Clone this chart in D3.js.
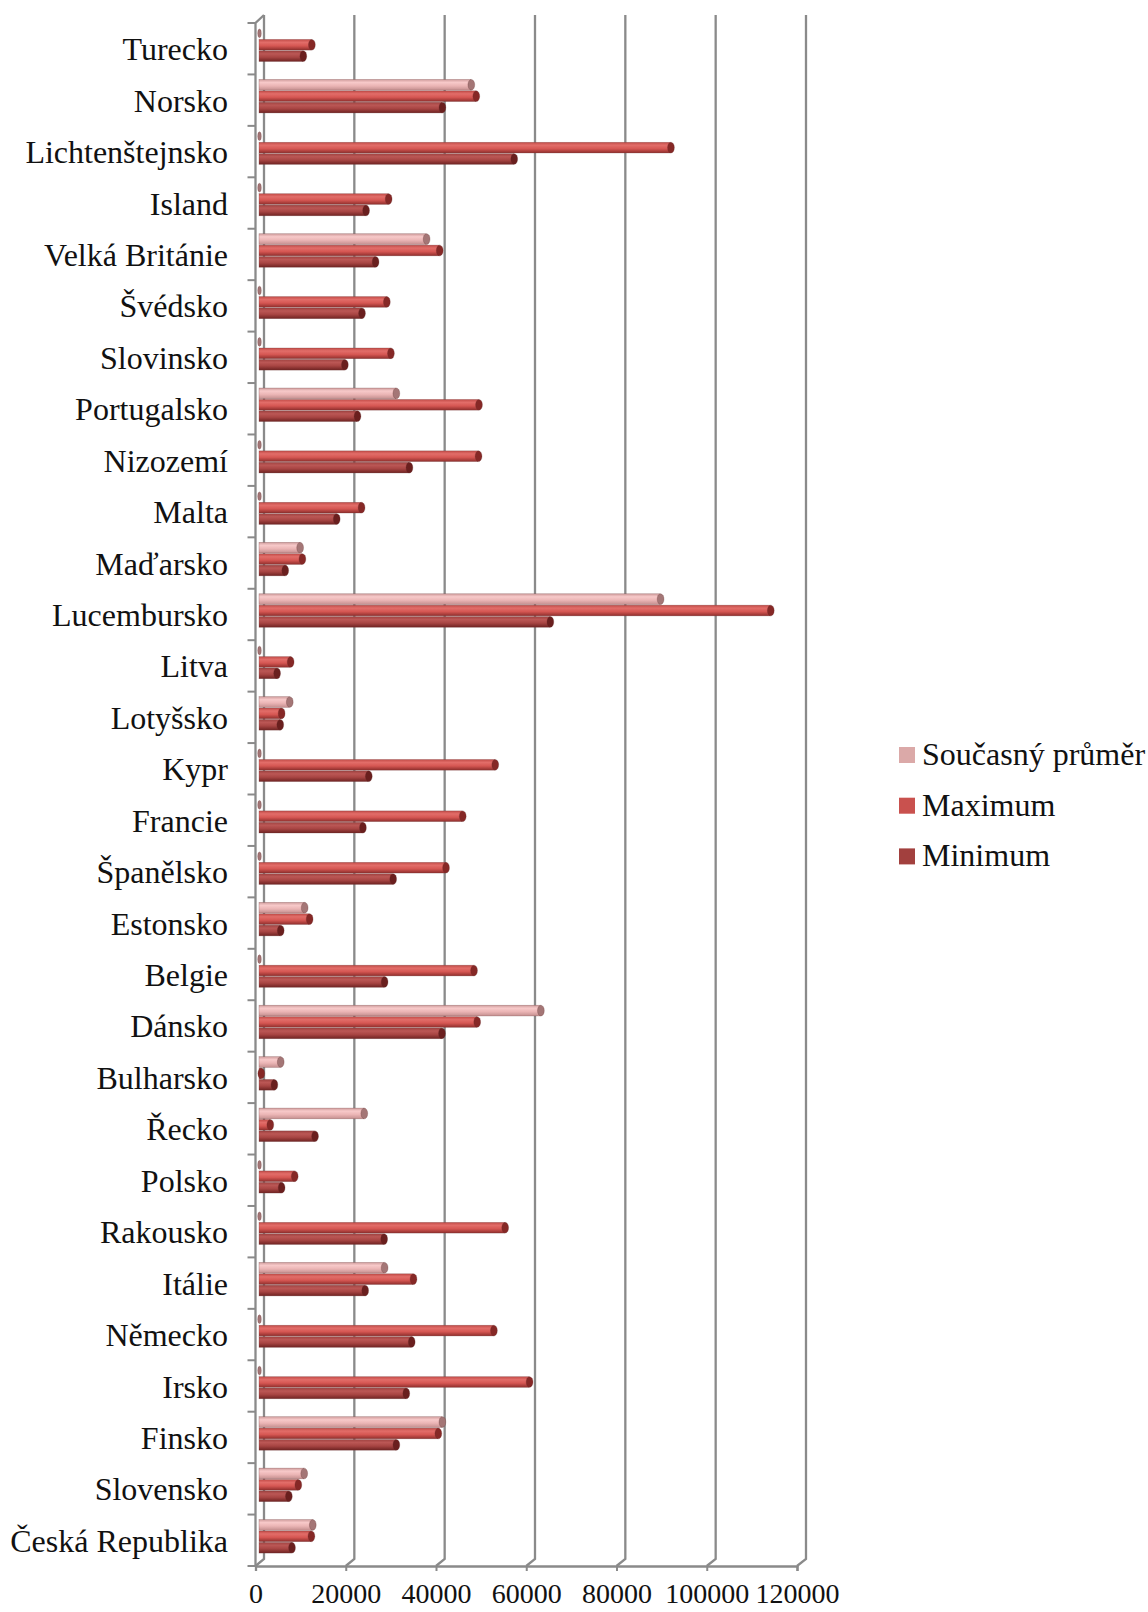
<!DOCTYPE html>
<html>
<head>
<meta charset="utf-8">
<script src="https://cdn.jsdelivr.net/npm/d3@7"></script>
<style>
  body { margin: 0; background: #fff; }
</style>
</head>
<body>
<div id="chart"></div>
<script>
// Countries, top to bottom
var countries = ["Turecko", "Norsko", "Lichtenštejnsko", "Island", "Velká Británie",
  "Švédsko", "Slovinsko", "Portugalsko", "Nizozemí", "Malta", "Maďarsko",
  "Lucembursko", "Litva", "Lotyšsko", "Kypr", "Francie", "Španělsko", "Estonsko",
  "Belgie", "Dánsko", "Bulharsko", "Řecko", "Polsko", "Rakousko", "Itálie",
  "Německo", "Irsko", "Finsko", "Slovensko", "Česká Republika"];

var prumer = [0, 46900, 0, 0, 37000, 0, 0, 30300, 0, 0, 9000,
  88800, 0, 6700, 0, 0, 0, 10000, 0, 62300, 4700, 23200, 0, 0, 27700,
  0, 0, 40500, 9900, 11800];

var maximum = [11600, 48000, 91100, 28600, 39900, 28200, 29100, 48600, 48500, 22600, 9500,
  113200, 6900, 4900, 52200, 45000, 41300, 11100, 47500, 48200, 400, 2400, 7800, 54400, 34100,
  51900, 59800, 39600, 8600, 11500];

var minimum = [9700, 40500, 56400, 23600, 25700, 22700, 18900, 21700, 33200, 17100, 5700,
  64400, 3900, 4600, 24200, 22900, 29600, 4700, 27700, 40400, 3300, 12300, 4900, 27600, 23400,
  33700, 32500, 30300, 6500, 7200];

var seriesNames = ["Současný průměr", "Maximum", "Minimum"];
var xTicks = [0, 20000, 40000, 60000, 80000, 100000, 120000];

// Page and plot geometry
var svgWidth = 1148;
var svgHeight = 1612;
var wallTop = 15;
var wallBottom = 1559;
var floorY = 1566;
var axisTop = 23;
var serif = "'Liberation Serif', 'Times New Roman', serif";

var series = [
  { name: seriesNames[0], values: prumer,  key: "p", legend: "#dba9a8",
    stops: ["#cf9c9c", "#f7c9c9", "#ebb5b5", "#c48f8f"], cap: "#a47676" },
  { name: seriesNames[1], values: maximum, key: "x", legend: "#c9514e",
    stops: ["#c24b47", "#e26d69", "#d65753", "#8f2e2c"], cap: "#862826" },
  { name: seriesNames[2], values: minimum, key: "n", legend: "#a2403e",
    stops: ["#9f4240", "#bb5755", "#a84543", "#6f2322"], cap: "#6a1f1e" }
];

// Scales: back wall, front floor edge, bars sit in between
var wallScale = d3.scaleLinear().domain([0, 120000]).range([264, 806]);
var floorScale = d3.scaleLinear().domain([0, 120000]).range([255.5, 797]);
var barScale = d3.scaleLinear().domain([0, 120000]).range([259, 801]);

var yScale = d3.scaleBand().domain(countries).range([axisTop, floorY]);
var yInner = d3.scaleBand().domain(seriesNames).range([5, 38.5]).paddingInner(0.06);

var svg = d3.select("#chart")
  .append("svg")
  .attr("width", svgWidth)
  .attr("height", svgHeight);

// Gradients for the cylinder look
var defs = svg.append("defs");
series.forEach(function(s) {
  var g = defs.append("linearGradient")
    .attr("id", "grad-" + s.key)
    .attr("x1", 0).attr("y1", 0).attr("x2", 0).attr("y2", 1);
  var offs = [0, 0.28, 0.6, 1];
  s.stops.forEach(function(c, i) {
    g.append("stop").attr("offset", offs[i]).attr("stop-color", c);
  });
});

var gridColor = "#8a8a8a";

// Back wall gridlines with the short diagonal down to the floor edge
svg.append("g")
  .selectAll("path")
  .data(xTicks)
  .enter()
  .append("path")
  .attr("d", function(d) {
    return "M" + wallScale(d) + "," + wallTop +
           "L" + wallScale(d) + "," + wallBottom +
           "L" + floorScale(d) + "," + floorY;
  })
  .attr("fill", "none")
  .attr("stroke", gridColor)
  .attr("stroke-width", 2.3);

// Bars
var rows = svg.append("g")
  .selectAll("g")
  .data(countries)
  .enter()
  .append("g")
  .attr("transform", function(d) { return "translate(0," + yScale(d) + ")"; });

series.forEach(function(s) {
  var h = yInner.bandwidth();
  var y0 = yInner(s.name);

  rows.append("rect")
    .attr("x", barScale(0))
    .attr("y", y0)
    .attr("width", function(d, i) { return barScale(s.values[i]) - barScale(0); })
    .attr("height", h)
    .attr("fill", "url(#grad-" + s.key + ")")
    .attr("stroke", "rgba(110,60,60,0.45)")
    .attr("stroke-width", 0.6);

  rows.append("ellipse")
    .attr("cx", function(d, i) { return barScale(s.values[i]) + 0.5; })
    .attr("cy", y0 + h / 2)
    .attr("rx", function(d, i) { return s.values[i] === 0 ? 1.8 : 3.4; })
    .attr("ry", function(d, i) { return s.values[i] === 0 ? h / 2 - 1 : h / 2; })
    .attr("fill", s.cap)
    .attr("stroke", "rgba(90,40,40,0.5)")
    .attr("stroke-width", 0.5);
});

// Left axis: front edge of the side wall plus ticks at band edges
var leftX = floorScale(0);
svg.append("path")
  .attr("d", "M" + leftX + "," + floorY + "L" + leftX + "," + axisTop +
             "L" + wallScale(0) + "," + wallTop)
  .attr("fill", "none")
  .attr("stroke", gridColor)
  .attr("stroke-width", 2.3);

var edges = countries.map(function(c) { return yScale(c); }).concat([floorY]);
svg.append("g")
  .selectAll("line")
  .data(edges)
  .enter()
  .append("line")
  .attr("x1", leftX - 8)
  .attr("x2", leftX)
  .attr("y1", function(d) { return d; })
  .attr("y2", function(d) { return d; })
  .attr("stroke", gridColor)
  .attr("stroke-width", 2);

// Category labels
svg.append("g")
  .selectAll("text")
  .data(countries)
  .enter()
  .append("text")
  .text(function(d) { return d; })
  .attr("x", 228)
  .attr("y", function(d) { return yScale(d) + yScale.bandwidth() / 2; })
  .attr("dy", "0.36em")
  .attr("text-anchor", "end")
  .attr("fill", "#111")
  .style("font-family", serif)
  .style("font-size", "32px");

// Floor edge axis with value labels
var xAxis = svg.append("g")
  .attr("transform", "translate(0," + floorY + ")")
  .call(d3.axisBottom(floorScale).tickValues(xTicks).tickSize(5).tickPadding(12)
        .tickFormat(function(d) { return String(d); }));
xAxis.select(".domain").attr("stroke", gridColor).attr("stroke-width", 2.3);
xAxis.selectAll(".tick line").attr("stroke", gridColor).attr("stroke-width", 2);
xAxis.selectAll(".tick text")
  .attr("fill", "#111")
  .style("font-family", serif)
  .style("font-size", "28px");

// Legend
var legend = svg.append("g")
  .selectAll("g")
  .data(series)
  .enter()
  .append("g")
  .attr("transform", function(d, i) { return "translate(899," + (747 + i * 50.7) + ")"; });

legend.append("rect")
  .attr("width", 16)
  .attr("height", 16)
  .attr("fill", function(d) { return d.legend; });

legend.append("text")
  .text(function(d) { return d.name; })
  .attr("x", 23)
  .attr("y", 18)
  .attr("fill", "#111")
  .style("font-family", serif)
  .style("font-size", "32px");
</script>
</body>
</html>
